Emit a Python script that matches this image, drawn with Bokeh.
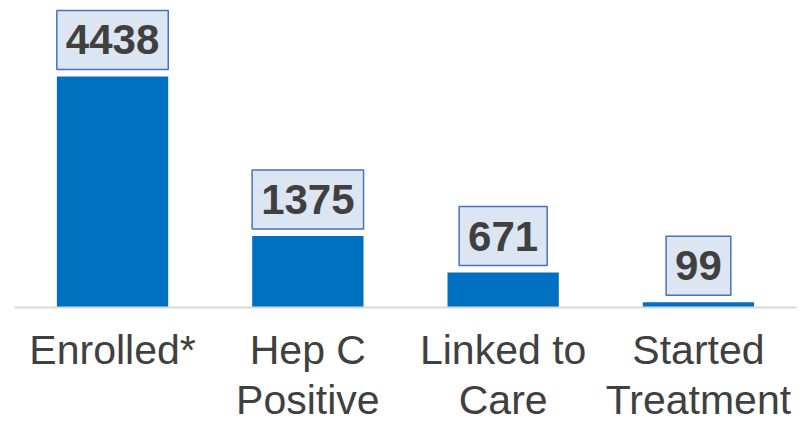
from bokeh.plotting import figure
from bokeh.models import ColumnDataSource, FactorRange, Range1d
from bokeh.core.properties import value
from bokeh.embed import file_html
from bokeh.resources import INLINE

categories = ["Enrolled*", "Hep C\nPositive", "Linked to\nCare", "Started\nTreatment"]
counts = [4438, 1375, 671, 99]
count_labels = [str(c) for c in counts]

src = ColumnDataSource(dict(cat=categories, val=counts, lab=count_labels))

p = figure(
    x_range=FactorRange(*categories, range_padding=0.001),
    y_range=Range1d(0, 5744),
    frame_width=782, frame_height=299,
    output_backend="svg", toolbar_location=None,
    min_border_left=14, min_border_right=1, min_border_top=8, min_border_bottom=0,
)
p.background_fill_color = "white"
p.border_fill_color = "white"
p.outline_line_color = None
p.grid.visible = False
p.yaxis.visible = False

p.vbar(x="cat", top="val", width=0.57, source=src, fill_color="#0070c0", line_color=None)

p.text(x="cat", y="val", text="lab", source=src,
       text_align="center", text_baseline="bottom",
       text_font=value("Liberation Sans"), text_font_style="bold",
       text_font_size="42px", text_color="#404040",
       y_offset=-7,
       background_fill_color="#dce6f2", border_line_color="#4472c4",
       border_line_width=1.5, padding=dict(x=9, y=15))

ax = p.xaxis[0]
ax.axis_line_color = "#d9d9d9"
ax.axis_line_width = 2
ax.major_tick_line_color = None
ax.minor_tick_line_color = None
ax.major_label_text_font = "Liberation Sans"
ax.major_label_text_font_size = "41px"
ax.major_label_text_line_height = 1.1
ax.major_label_text_color = "#404040"
ax.major_label_standoff = 13

open("out.html", "w").write(file_html(p, INLINE))
